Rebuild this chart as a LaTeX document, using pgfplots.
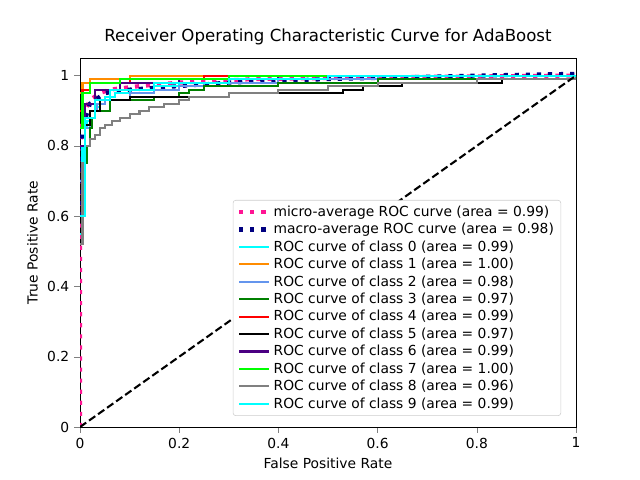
\documentclass[border=0pt]{standalone}
\usepackage{pgfplots}
\pgfplotsset{compat=1.18}
\usepackage{fontspec}
\setmainfont{DejaVu Sans}
\definecolor{deeppink}{HTML}{FF1493}
\definecolor{navy}{HTML}{000080}
\definecolor{aqua}{HTML}{00FFFF}
\definecolor{dorange}{HTML}{FF8C00}
\definecolor{cfblue}{HTML}{6495ED}
\definecolor{mgreen}{HTML}{008000}
\definecolor{indigo}{HTML}{4B0082}
\definecolor{lime}{HTML}{00FF00}
\definecolor{mgray}{HTML}{808080}
\begin{document}
\begin{tikzpicture}[x=1in,y=1in]
\path (0,0) rectangle (6.4,4.8);
\begin{axis}[at={(0.8in,0.53in)},anchor=south west,scale only axis,
width=4.96in,height=3.69in,xmin=0,xmax=1,ymin=0,ymax=1.05,
font=\fontsize{10}{12}\selectfont,
title={\fontsize{12}{14}\selectfont Receiver Operating Characteristic Curve for AdaBoost},
xlabel={False Positive Rate},ylabel={True Positive Rate},
xtick={0,0.2,0.4,0.6,0.8,1},ytick={0,0.2,0.4,0.6,0.8,1},
xticklabel style={/pgf/number format/fixed,/pgf/number format/precision=1},
yticklabel style={/pgf/number format/fixed,/pgf/number format/precision=1},
/pgf/number format/assume math mode=true,
tick align=outside,tick pos=left,
legend pos=south east,legend cell align=left,
legend image code/.code={\draw[#1] (0cm,0cm) -- (0.75cm,0cm);},
legend style={draw=black!20,rounded corners=2pt,font=\fontsize{10}{12.5}\selectfont,row sep=-0.5pt},
]
\addplot[deeppink,line width=3pt,dash pattern=on 3pt off 5pt] coordinates {(0,0) (0,0.75) (0.003,0.85) (0.01,0.9) (0.02,0.93) (0.04,0.95) (0.06,0.96) (0.12,0.97) (0.2,0.98) (0.35,0.99) (0.6,0.995) (1,1)};
\addlegendentry{micro-average ROC curve (area = 0.99)}
\addplot[navy,line width=3pt,dash pattern=on 3pt off 5pt] coordinates {(0,0.6) (0.005,0.85) (0.02,0.92) (0.05,0.95) (0.1,0.96) (0.2,0.97) (0.3,0.98) (0.5,0.99) (0.8,1.0) (1,1.005)};
\addlegendentry{macro-average ROC curve (area = 0.98)}
\addplot[aqua,line width=1.5pt,const plot] coordinates {(0,0.55) (0.005,0.8) (0.01,0.85) (0.015,0.87) (0.02,0.88) (0.03,0.91) (0.04,0.93) (0.05,0.94) (0.07,0.95) (0.1,0.96) (0.15,0.97) (0.2,0.98) (0.3,0.99) (0.5,1) (1,1)};
\addlegendentry{ROC curve of class 0 (area = 0.99)}
\addplot[dorange,line width=1.5pt,const plot] coordinates {(0,0.95) (0.005,0.98) (0.02,0.99) (0.1,1) (1,1)};
\addlegendentry{ROC curve of class 1 (area = 1.00)}
\addplot[cfblue,line width=1.5pt,const plot] coordinates {(0,0.7) (0.01,0.85) (0.02,0.9) (0.035,0.92) (0.05,0.93) (0.1,0.95) (0.15,0.96) (0.2,0.97) (0.25,0.98) (0.4,0.99) (0.6,1) (1,1)};
\addlegendentry{ROC curve of class 2 (area = 0.98)}
\addplot[mgreen,line width=1.5pt,const plot] coordinates {(0,0.6) (0.01,0.75) (0.015,0.8) (0.02,0.85) (0.025,0.88) (0.03,0.9) (0.06,0.93) (0.15,0.94) (0.2,0.95) (0.22,0.96) (0.25,0.97) (0.4,0.98) (0.6,0.99) (1,1)};
\addlegendentry{ROC curve of class 3 (area = 0.97)}
\addplot[red,line width=1.5pt,const plot] coordinates {(0,0.9) (0.005,0.96) (0.02,0.98) (0.1,0.99) (0.25,1) (1,1)};
\addlegendentry{ROC curve of class 4 (area = 0.99)}
\addplot[black,line width=1.5pt,const plot] coordinates {(0,0.75) (0.01,0.86) (0.02,0.9) (0.04,0.93) (0.1,0.94) (0.3,0.95) (0.53,0.96) (0.57,0.97) (0.65,0.98) (0.85,0.99) (1,1)};
\addlegendentry{ROC curve of class 5 (area = 0.97)}
\addplot[indigo,line width=1.5pt,const plot] coordinates {(0,0.8) (0.01,0.92) (0.03,0.96) (0.08,0.98) (0.2,0.99) (0.4,1) (1,1)};
\addlegendentry{ROC curve of class 6 (area = 0.99)}
\addplot[lime,line width=1.5pt,const plot] coordinates {(0,0.85) (0.005,0.95) (0.02,0.98) (0.08,0.99) (0.3,1) (1,1)};
\addlegendentry{ROC curve of class 7 (area = 1.00)}
\addplot[mgray,line width=1.5pt,const plot] coordinates {(0,0.52) (0.005,0.75) (0.01,0.8) (0.02,0.82) (0.03,0.83) (0.04,0.85) (0.05,0.86) (0.065,0.87) (0.08,0.88) (0.1,0.89) (0.12,0.9) (0.14,0.91) (0.17,0.92) (0.2,0.93) (0.22,0.94) (0.3,0.95) (0.4,0.96) (0.5,0.97) (0.6,0.98) (0.8,0.99) (1,1)};
\addlegendentry{ROC curve of class 8 (area = 0.96)}
\addplot[aqua,line width=1.5pt,const plot,forget plot] coordinates {(0,0.6) (0.01,0.88) (0.03,0.93) (0.06,0.96) (0.15,0.98) (0.3,0.99) (0.5,1) (1,1)};
\addlegendimage{aqua,line width=1.5pt}
\addlegendentry{ROC curve of class 9 (area = 0.99)}
\addplot[black,line width=1.5pt,dash pattern=on 5.5pt off 2.5pt,forget plot] coordinates {(0,0) (1,1)};
\end{axis}
\end{tikzpicture}
\end{document}
